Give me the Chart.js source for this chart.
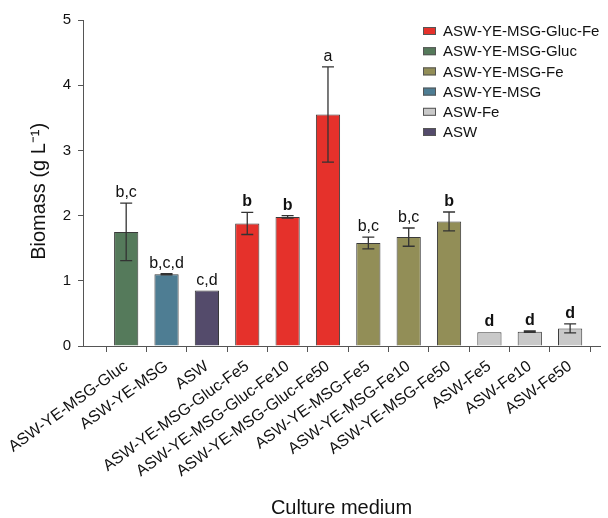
<!DOCTYPE html>
<html><head><meta charset="utf-8">
<script src="https://cdn.jsdelivr.net/npm/chart.js@4.4.1/dist/chart.umd.min.js"></script>
<style>html,body{margin:0;padding:0;background:#fff}#wrap{width:608px;height:518px}</style>
</head><body><div id="wrap"><canvas id="c" width="608" height="518"></canvas></div>
<script>
// ---- data ----
const categories = ['ASW-YE-MSG-Gluc','ASW-YE-MSG','ASW','ASW-YE-MSG-Gluc-Fe5','ASW-YE-MSG-Gluc-Fe10','ASW-YE-MSG-Gluc-Fe50','ASW-YE-MSG-Fe5','ASW-YE-MSG-Fe10','ASW-YE-MSG-Fe50','ASW-Fe5','ASW-Fe10','ASW-Fe50'];
const biomass = [1.75,1.10,0.85,1.88,1.98,3.55,1.58,1.67,1.91,0.21,0.22,0.27];
const errors = [0.44,0.01,0,0.17,0.02,0.73,0.09,0.14,0.145,0,0.01,0.07];
const letters = ['b,c','b,c,d','c,d','b','b','a','b,c','b,c','b','d','d','d'];
const groups = ['ASW-YE-MSG-Gluc-Fe','ASW-YE-MSG-Gluc','ASW-YE-MSG-Fe','ASW-YE-MSG','ASW-Fe','ASW'];
const groupOfBar = [1,3,5,0,0,0,2,2,2,4,4,4];
const yTicks = [0,1,2,3,4,5];

// ---- styles ----
const groupColors = ['#e5312b','#557a5b','#928e57','#4e7d93','#c9c9c9','#544b6b'];
const FONT = "'Liberation Sans', Arial, Helvetica, sans-serif";
const AXIS = '#555';

const errPlugin = {
  id:'errLetters',
  afterDatasetsDraw(chart){
    const {ctx, scales:{y}} = chart;
    const meta = chart.getDatasetMeta(0);
    ctx.save();
    meta.data.forEach((bar,i)=>{
      const v = biomass[i], e = errors[i], cx = bar.x;
      const yt = y.getPixelForValue(v+e), yb = y.getPixelForValue(v-e);
      if (e>0){
        ctx.strokeStyle = '#333'; ctx.lineWidth = 1.3;
        ctx.beginPath();
        ctx.moveTo(cx,yt); ctx.lineTo(cx,yb);
        ctx.moveTo(cx-6,yt); ctx.lineTo(cx+6,yt);
        ctx.moveTo(cx-6,yb); ctx.lineTo(cx+6,yb);
        ctx.stroke();
      }
      const top = Math.min(yt, bar.y);
      const bold = letters[i].length===1 && letters[i]!=='a';
      ctx.font = (bold?'bold ':'')+'16px '+FONT;
      ctx.fillStyle = '#111'; ctx.textAlign='center'; ctx.textBaseline='alphabetic';
      ctx.fillText(letters[i], cx, top-6);
    });
    ctx.restore();
  }
};

const legendPlugin = {
  id:'insideLegend',
  afterDraw(chart){
    const {ctx, chartArea} = chart;
    const bx = chartArea.right - 177, tx = chartArea.right - 157;
    ctx.save();
    groups.forEach((g,i)=>{
      const cy = chartArea.top + 11 + i*20.2;
      ctx.fillStyle = groupColors[i];
      ctx.fillRect(bx, cy-4, 13, 8);
      ctx.strokeStyle = '#555'; ctx.lineWidth = 1;
      ctx.strokeRect(bx+0.5, cy-3.5, 12, 7);
      ctx.fillStyle = '#111';
      ctx.font = '15px '+FONT; ctx.textAlign='left'; ctx.textBaseline='middle';
      ctx.fillText(g, tx, cy+1);
    });
    ctx.restore();
  }
};

new Chart(document.getElementById('c').getContext('2d'), {
  type:'bar',
  data:{datasets:[{
    label:'Biomass',
    data: biomass.map((v,i)=>({x:i,y:v})),
    backgroundColor: groupOfBar.map(g=>groupColors[g]),
    borderColor:'#3a3a3a', borderWidth:1,
    barPercentage:0.6, categoryPercentage:1
  }]},
  options:{
    responsive:false, animation:false, devicePixelRatio:1,
    layout:{padding:{left:0,right:8,top:20,bottom:0}},
    plugins:{legend:{display:false}, tooltip:{enabled:false}},
    scales:{
      x:{
        type:'linear', min:-1.07, max:11.74, offset:false,
        afterBuildTicks: s=>{ s.ticks = categories.map((c,i)=>({value:i})); },
        ticks:{callback:(v)=>categories[v], minRotation:36, maxRotation:36, autoSkip:false,
               font:{size:16,family:FONT}, color:'#111', padding:5},
        grid:{drawOnChartArea:false, tickLength:6, color:AXIS},
        border:{color:AXIS, width:1},
        title:{display:true, text:'Culture medium', font:{size:20,family:FONT,lineHeight:1}, color:'#111', padding:{top:0,bottom:0}},
        afterFit: s=>{ s.height = 172; s.paddingLeft = 0; s.paddingRight = 0; }
      },
      y:{
        min:0, max:5,
        afterBuildTicks: s=>{ s.ticks = yTicks.map(v=>({value:v})); },
        ticks:{font:{size:15,family:FONT}, color:'#111', padding:7},
        grid:{drawOnChartArea:false, tickLength:5, color:AXIS},
        border:{color:AXIS, width:1},
        title:{display:true, text:'Biomass (g L\u207B\u00B9)   ', font:{size:20,family:FONT}, color:'#111', padding:{top:27,bottom:0}},
        afterFit: s=>{ s.width = 83; }
      }
    }
  },
  plugins:[errPlugin, legendPlugin]
});
</script></body></html>
